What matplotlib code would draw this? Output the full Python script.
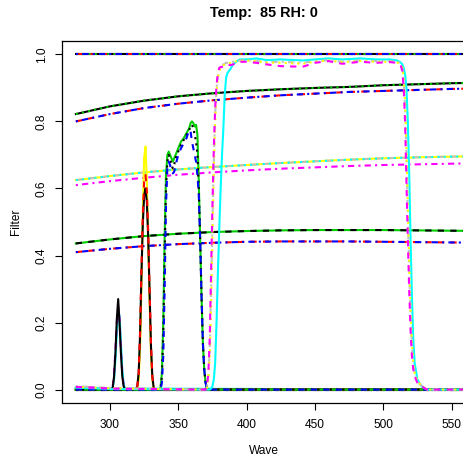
import matplotlib
matplotlib.use("Agg")
import matplotlib.pyplot as plt

# R's old default palette
BLACK, RED, GREEN, BLUE = "#000000", "#FF0000", "#00CD00", "#0000FF"
CYAN, MAGENTA, YELLOW, GRAY = "#00FFFF", "#FF00FF", "#FFFF00", "#BEBEBE"

# R line types, dash lengths in units of line width
SOLID = "-"
DASHED = (0, (3, 3))
DOTTED = (0, (1, 2))
DOTDASH = (0, (1, 2, 3, 2))
LONGDASH = (0, (5, 2))

title = "Temp:  85 RH: 0"

# smooth transmission curves, sampled every 25 nm
wave_grid = [275, 300, 325, 350, 375, 400, 425, 450, 475, 500, 525, 550, 575]
ones = [1.0] * 13
zeros = [0.0] * 13
upper_a = [0.822, 0.845, 0.862, 0.875, 0.884, 0.891, 0.896, 0.900, 0.903, 0.908, 0.911, 0.914, 0.916]
upper_b = [0.800, 0.822, 0.840, 0.853, 0.863, 0.871, 0.878, 0.883, 0.888, 0.891, 0.894, 0.897, 0.899]
middle_a = [0.625, 0.637, 0.648, 0.657, 0.664, 0.670, 0.676, 0.681, 0.686, 0.690, 0.693, 0.695, 0.697]
middle_b = [0.610, 0.622, 0.632, 0.641, 0.648, 0.654, 0.659, 0.663, 0.667, 0.670, 0.672, 0.674, 0.676]
lower_a = [0.436, 0.448, 0.458, 0.465, 0.470, 0.473, 0.475, 0.476, 0.476, 0.476, 0.475, 0.474, 0.473]
lower_b = [0.410, 0.420, 0.428, 0.434, 0.438, 0.441, 0.442, 0.442, 0.442, 0.441, 0.440, 0.439, 0.438]

# narrow band near 306 nm
wave_p1 = [275, 290, 300, 302, 303, 304, 305, 306, 307, 308, 309, 310, 311, 575]
p1_black = [0.0, 0.0, 0.0, 0.005, 0.04, 0.11, 0.21, 0.27, 0.20, 0.11, 0.04, 0.01, 0.0, 0.0]
p1_magenta = [0.008, 0.006, 0.003, 0.01, 0.05, 0.12, 0.20, 0.245, 0.21, 0.12, 0.05, 0.01, 0.002, 0.0]
p1_cyan = [0.006, 0.005, 0.002, 0.005, 0.03, 0.09, 0.17, 0.23, 0.22, 0.14, 0.06, 0.015, 0.003, 0.0]

# narrow band near 326 nm
wave_p2 = [275, 319, 320, 321, 322, 323, 324, 325, 326, 327, 328, 329, 330, 331, 332, 333, 575]
p2_black = [0.0, 0.0, 0.01, 0.05, 0.16, 0.34, 0.49, 0.58, 0.60, 0.56, 0.45, 0.29, 0.13, 0.04, 0.005, 0.0, 0.0]
p2_red = [0.0, 0.0, 0.01, 0.05, 0.17, 0.36, 0.52, 0.62, 0.64, 0.59, 0.47, 0.30, 0.14, 0.04, 0.005, 0.0, 0.0]
p2_yellow = [0.0, 0.0, 0.005, 0.03, 0.12, 0.30, 0.52, 0.69, 0.725, 0.62, 0.44, 0.26, 0.11, 0.03, 0.004, 0.0, 0.0]

# band 340-370 nm
wave_p3 = [275, 336, 337, 338, 339, 340, 341, 342, 343, 344, 345, 346, 347, 348, 350, 352, 354, 356,
           358, 359, 360, 361, 362, 363, 364, 365, 366, 367, 368, 369, 370, 371, 372, 575]
p3_green = [0.0, 0.0, 0.005, 0.05, 0.20, 0.45, 0.64, 0.70, 0.71, 0.70, 0.69, 0.68, 0.69, 0.70, 0.72,
            0.74, 0.75, 0.765, 0.78, 0.795, 0.80, 0.795, 0.785, 0.79, 0.76, 0.62, 0.45, 0.28, 0.14,
            0.06, 0.02, 0.005, 0.0, 0.0]
p3_blue = [0.0, 0.0, 0.0, 0.02, 0.10, 0.30, 0.55, 0.66, 0.68, 0.67, 0.65, 0.645, 0.65, 0.67, 0.70,
           0.72, 0.735, 0.75, 0.775, 0.77, 0.74, 0.72, 0.70, 0.68, 0.64, 0.58, 0.45, 0.28, 0.14,
           0.06, 0.02, 0.0, 0.0, 0.0]
p3_black = [0.0, 0.0, 0.003, 0.04, 0.16, 0.40, 0.60, 0.68, 0.70, 0.69, 0.67, 0.66, 0.67, 0.69, 0.71,
            0.73, 0.745, 0.76, 0.775, 0.785, 0.79, 0.78, 0.76, 0.74, 0.70, 0.60, 0.45, 0.28, 0.14,
            0.06, 0.02, 0.004, 0.0, 0.0]

# wide band 375-525 nm
wave_p4 = [275, 300, 369, 370, 371, 372, 373, 374, 375, 376, 377, 378, 379, 380, 381, 382, 383, 384,
           385, 386, 388, 390, 393, 395, 400, 407, 415, 425, 441, 450, 460, 470, 483, 495, 505, 510,
           512, 513, 514, 515, 516, 517, 518, 519, 520, 521, 522, 523, 525, 528, 532, 575]
p4_cyan = [0.006, 0.002, 0.0, 0.0, 0.0, 0.0, 0.001, 0.003, 0.01, 0.03, 0.08, 0.20, 0.35, 0.48, 0.60,
           0.70, 0.78, 0.88, 0.93, 0.945, 0.955, 0.97, 0.98, 0.985, 0.985, 0.988, 0.983, 0.985, 0.982,
           0.985, 0.988, 0.985, 0.988, 0.985, 0.985, 0.982, 0.978, 0.975, 0.97, 0.96, 0.94, 0.90,
           0.80, 0.65, 0.45, 0.28, 0.15, 0.08, 0.03, 0.01, 0.0, 0.0]
p4_magenta = [0.008, 0.003, 0.0, 0.0, 0.01, 0.05, 0.15, 0.35, 0.55, 0.72, 0.84, 0.91, 0.945, 0.96,
              0.962, 0.963, 0.965, 0.967, 0.97, 0.97, 0.968, 0.97, 0.975, 0.978, 0.978, 0.975, 0.97,
              0.965, 0.963, 0.975, 0.98, 0.972, 0.978, 0.975, 0.977, 0.975, 0.97, 0.965, 0.95, 0.90,
              0.80, 0.62, 0.45, 0.30, 0.18, 0.10, 0.06, 0.04, 0.02, 0.01, 0.0, 0.0]
p4_yellow = [0.008, 0.004, 0.0, 0.0, 0.005, 0.03, 0.10, 0.25, 0.45, 0.65, 0.80, 0.89, 0.93, 0.95,
             0.96, 0.965, 0.968, 0.97, 0.972, 0.973, 0.975, 0.977, 0.98, 0.98, 0.982, 0.98, 0.975,
             0.975, 0.972, 0.978, 0.982, 0.977, 0.98, 0.978, 0.978, 0.976, 0.972, 0.968, 0.96, 0.93,
             0.86, 0.72, 0.55, 0.38, 0.24, 0.14, 0.08, 0.05, 0.025, 0.012, 0.0, 0.0]
p4_gray = [0.01, 0.005, 0.0, 0.0, 0.008, 0.04, 0.12, 0.30, 0.50, 0.68, 0.82, 0.90, 0.935, 0.955,
           0.963, 0.968, 0.97, 0.972, 0.975, 0.975, 0.976, 0.978, 0.98, 0.982, 0.983, 0.98, 0.977,
           0.978, 0.975, 0.98, 0.983, 0.978, 0.982, 0.98, 0.98, 0.978, 0.975, 0.97, 0.96, 0.92,
           0.84, 0.70, 0.52, 0.36, 0.22, 0.13, 0.08, 0.05, 0.025, 0.012, 0.0, 0.0]

series = [
    (wave_grid, ones, BLACK, SOLID),
    (wave_grid, ones, RED, DASHED),
    (wave_grid, ones, GREEN, DOTTED),
    (wave_grid, ones, BLUE, DOTDASH),
    (wave_grid, zeros, BLACK, SOLID),
    (wave_grid, zeros, RED, DASHED),
    (wave_grid, zeros, GREEN, DOTTED),
    (wave_grid, zeros, BLUE, DOTDASH),
    (wave_grid, upper_a, BLACK, SOLID),
    (wave_grid, upper_b, RED, DASHED),
    (wave_grid, upper_a, GREEN, DOTTED),
    (wave_grid, upper_b, BLUE, DOTDASH),
    (wave_grid, middle_a, YELLOW, SOLID),
    (wave_grid, middle_a, GRAY, DASHED),
    (wave_grid, middle_a, CYAN, DOTTED),
    (wave_grid, middle_b, MAGENTA, DOTDASH),
    (wave_grid, lower_a, GREEN, SOLID),
    (wave_grid, lower_a, BLACK, DASHED),
    (wave_grid, lower_b, RED, DASHED),
    (wave_grid, lower_b, BLUE, DOTDASH),
    (wave_p1, p1_cyan, CYAN, SOLID),
    (wave_p1, p1_magenta, MAGENTA, DASHED),
    (wave_p1, p1_black, BLACK, SOLID),
    (wave_p2, p2_yellow, YELLOW, SOLID),
    (wave_p2, p2_black, BLACK, SOLID),
    (wave_p2, p2_red, RED, DASHED),
    (wave_p3, p3_green, GREEN, SOLID),
    (wave_p3, p3_black, BLACK, DOTTED),
    (wave_p3, p3_blue, BLUE, DASHED),
    (wave_p4, p4_cyan, CYAN, SOLID),
    (wave_p4, p4_gray, GRAY, DOTDASH),
    (wave_p4, p4_yellow, YELLOW, DOTTED),
    (wave_p4, p4_magenta, MAGENTA, DASHED),
]

plt.rcParams["font.family"] = ["Liberation Sans", "DejaVu Sans"]

fig = plt.figure(figsize=(4.64, 4.57), dpi=100)
# plot region runs slightly past the right edge, as in the original
ax = fig.add_axes([62.3 / 464, 54 / 457, (466 - 62.3) / 464, (403 - 41) / 457])

for xs, ys, color, ls in series:
    ax.plot(xs, ys, color=color, linestyle=ls, linewidth=1.5)

ax.set_xlim(265.1, 560.6)
ax.set_ylim(-0.04, 1.04)
ax.set_xticks([300, 350, 400, 450, 500, 550])
ax.set_yticks([0.0, 0.2, 0.4, 0.6, 0.8, 1.0])
ax.set_yticklabels(["0.0", "0.2", "0.4", "0.6", "0.8", "1.0"], rotation=90, va="center")
ax.tick_params(direction="out", length=5, width=0.8, labelsize=8.6, pad=6.5)
ax.tick_params(axis="y", pad=5.5)
for sp in ax.spines.values():
    sp.set_linewidth(0.9)

ax.set_xlabel("Wave", fontsize=8.6, labelpad=10)
ax.set_ylabel("Filter", fontsize=8.6, labelpad=10)
fig.text((62.3 + 466) / 2 / 464, 1 - 13 / 457, title, ha="center", va="center",
         fontsize=10.4, fontweight="bold")

fig.savefig("out.png", dpi=100)
